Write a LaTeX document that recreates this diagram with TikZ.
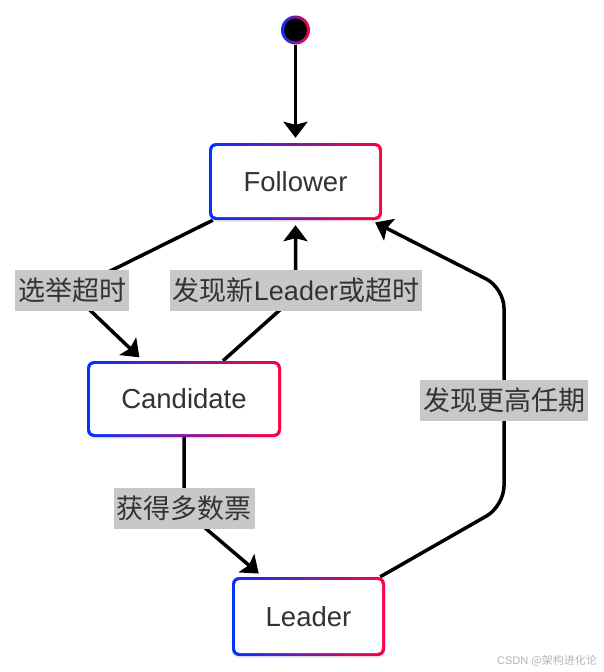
\documentclass[tikz,border=0pt]{standalone}
\usepackage{fontspec}
\setmainfont{Liberation Sans}
\newfontfamily\cjk{Noto Sans CJK SC}
\usetikzlibrary{arrows.meta,backgrounds,shadows}
\definecolor{gblue}{RGB}{0,51,255}
\definecolor{gred}{RGB}{255,0,64}
\definecolor{txt}{RGB}{51,51,51}
\definecolor{lblbg}{RGB}{200,200,200}
\definecolor{wm}{RGB}{180,180,180}
\tikzset{
  statebox/.style={rounded corners=7pt, shade, left color=gblue, right color=gred,
    text=txt, font=\fontsize{27.5}{33}\selectfont, inner sep=0pt,
    drop shadow={shadow xshift=0pt, shadow yshift=-2pt, opacity=0.12},
    path picture={\fill[white, rounded corners=4.5pt]
      ([shift={(3pt,3pt)}]path picture bounding box.south west) rectangle
      ([shift={(-3pt,-3pt)}]path picture bounding box.north east);}},
  startdot/.style={circle, shade, left color=gblue, right color=gred, inner sep=0pt,
    minimum size=29pt,
    path picture={\fill[black] (path picture bounding box.center) circle (11.5pt);}},
  lbl/.style={fill=lblbg, text=txt, font=\fontsize{27}{32}\cjk, inner xsep=3pt,
    inner ysep=7.5pt, text height=23pt, text depth=3pt},
  arr/.style={line width=3.5pt, -{Stealth[length=16pt, width=24pt, inset=3pt]},
    shorten >=5pt},
}
\begin{document}
\begin{tikzpicture}[x=1pt, y=-1pt]
\useasboundingbox (0,0) rectangle (604,672);

% states
\node[startdot] (start) at (295.5,30) {};
\node[statebox, minimum width=173pt, minimum height=77pt] (F) at (295.5,181.5) {Follower};
\node[statebox, minimum width=194pt, minimum height=76pt] (C) at (184,399) {Candidate};
\node[statebox, minimum width=153pt, minimum height=79pt] (L) at (308.5,616.5) {Leader};

% bend points
\coordinate (b1) at (70,291);
\coordinate (b2) at (295.5,296);
\coordinate (b3) at (184,510);
\coordinate (c1) at (504,506);
\coordinate (c2) at (504,288);

% labels
\node[lbl] (l1) at (72,290.5) {选举超时};
\node[lbl] (l2) at (296,290.5) {发现新{\fontspec{Liberation Sans}Leader}或超时};
\node[lbl] (l3) at (184,508) {获得多数票};
\node[lbl] (l4) at (504,400) {发现更高任期};

% watermark
\node[text=wm, font=\fontsize{11}{13}\selectfont, inner sep=0pt] (wmk) at (547,661) {CSDN {\cjk @架构进化论}};

\begin{scope}[on background layer]
\fill[white] (0,0) rectangle (604,672);
\draw[arr] (start.south) -- (F.north);
\draw[arr] ([xshift=4pt]F.south west) -- (b1) -- ([xshift=-41pt]C.north);
\draw[arr] ([xshift=39pt]C.north) -- (b2) -- (F.south);
\draw[arr] (C.south) -- (b3) -- ([xshift=-46pt]L.north);
\draw[arr, rounded corners=20pt] ([xshift=-5pt]L.north east) -- (c1) -- (c2) -- ([xshift=-11.5pt]F.south east);
\end{scope}
\end{tikzpicture}
\end{document}
